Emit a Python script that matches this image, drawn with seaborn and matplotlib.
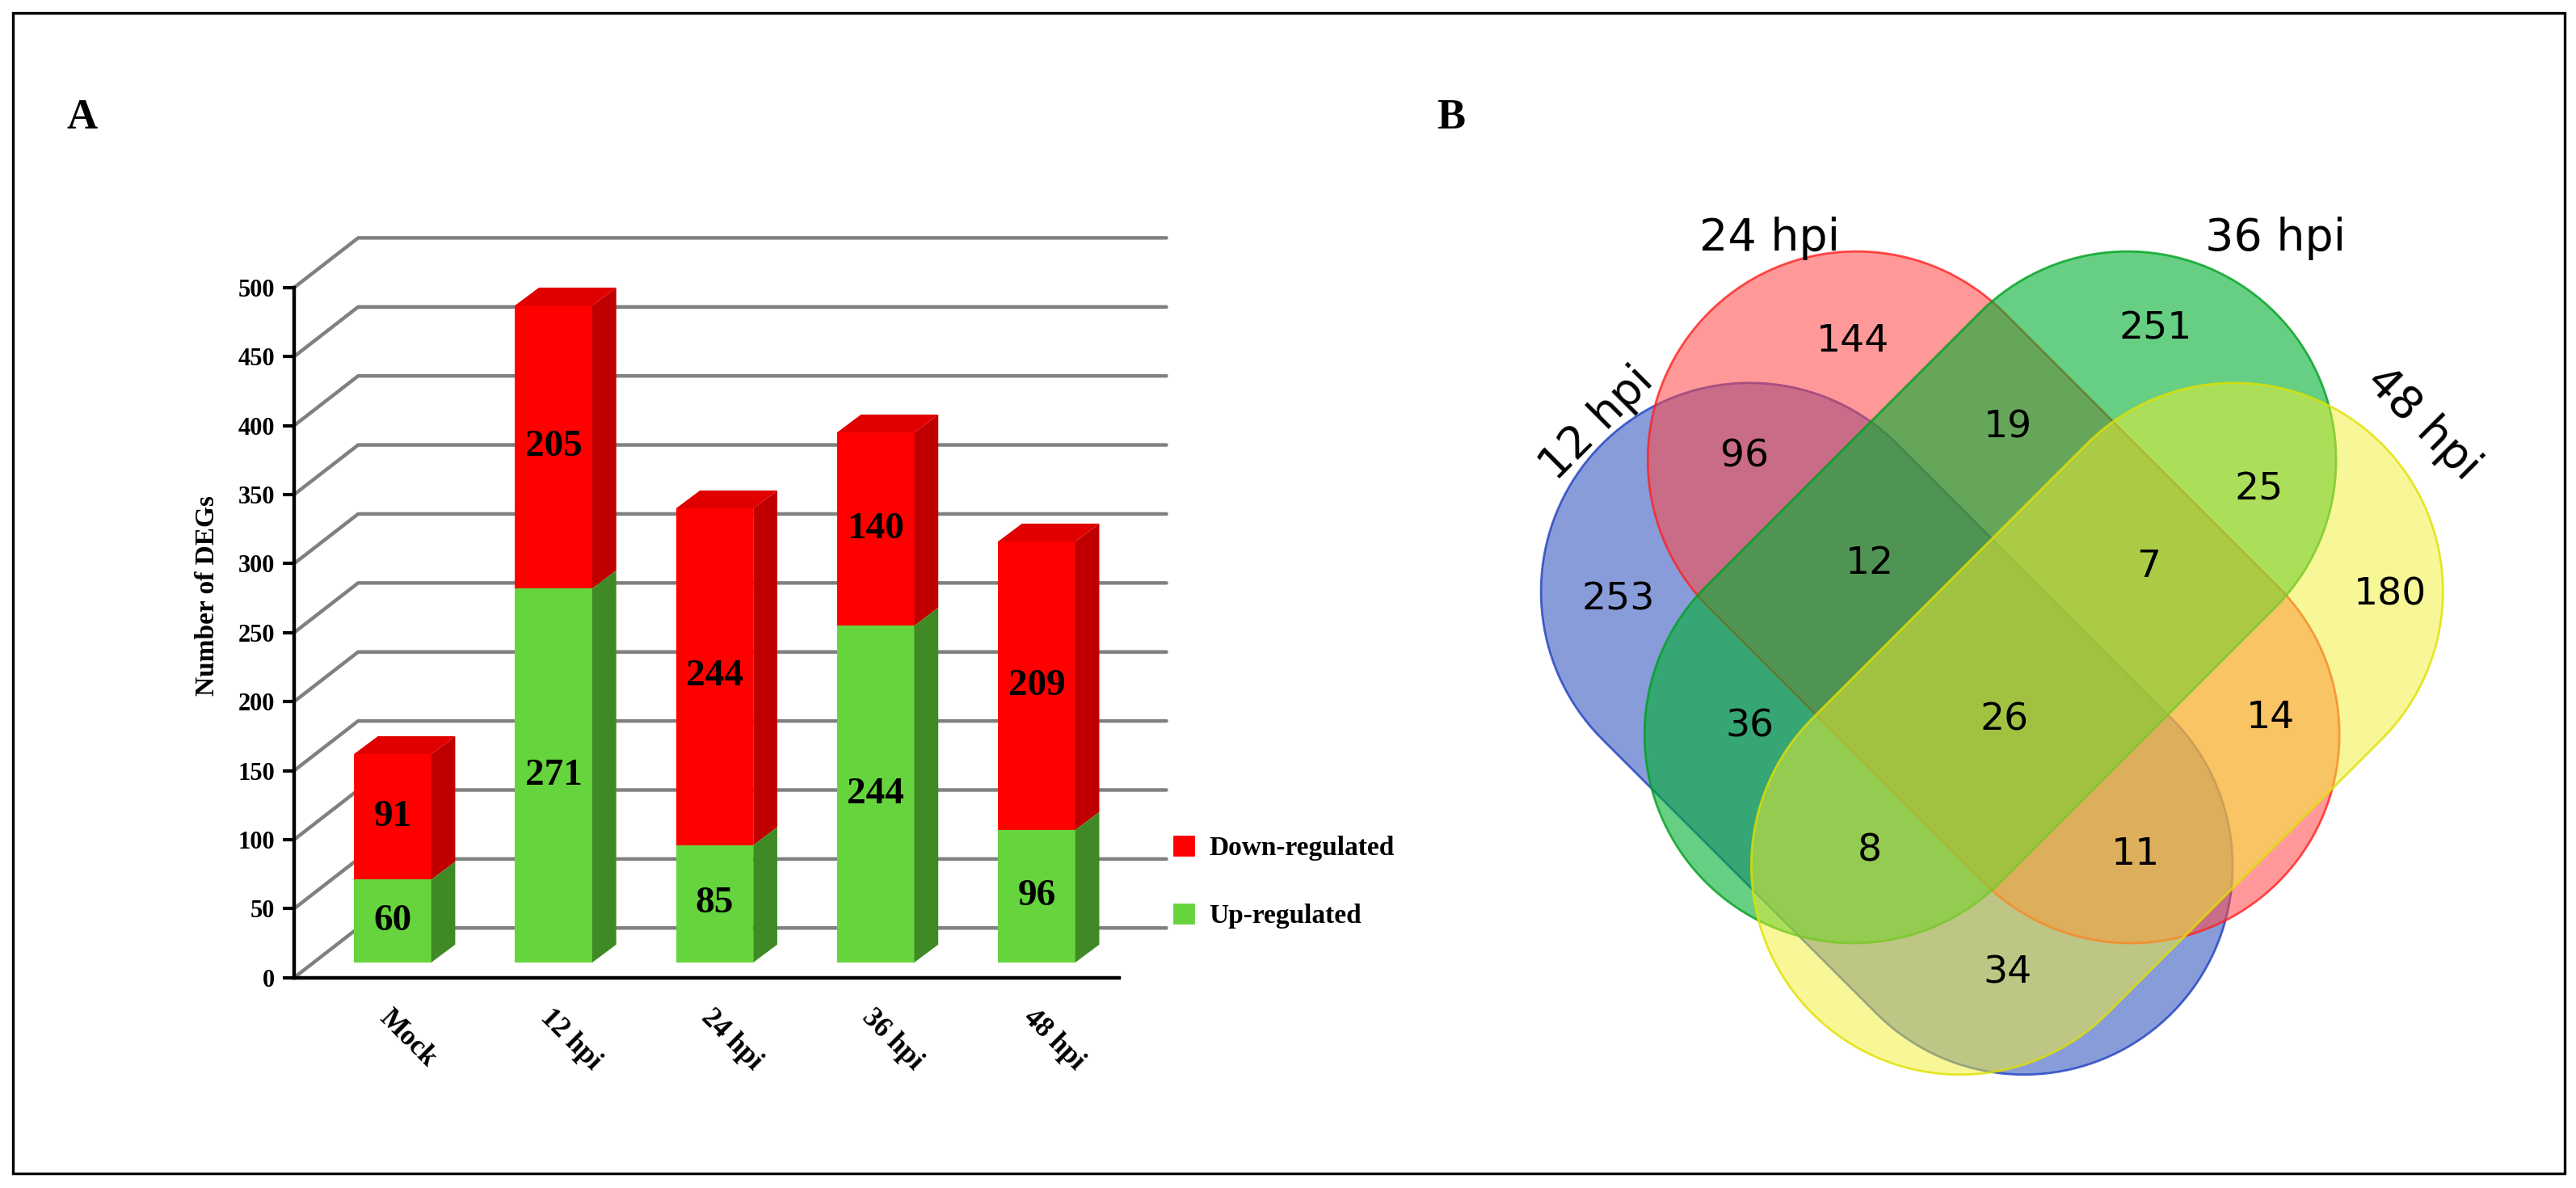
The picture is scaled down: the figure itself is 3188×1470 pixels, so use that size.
import numpy as np
import pandas as pd
import matplotlib
matplotlib.use("Agg")
import matplotlib.pyplot as plt
from matplotlib.patches import Polygon, Patch, Rectangle
import seaborn as sns

sns.set_style("white")
plt.rcParams.update({"text.color": "black", "axes.labelcolor": "black",
                     "xtick.color": "black", "ytick.color": "black"})

# datos panel A
grupos = ["Mock", "12 hpi", "24 hpi", "36 hpi", "48 hpi"]
up = [60, 271, 85, 244, 96]
down = [91, 205, 244, 140, 209]

# datos panel B (venn)
venn_sets = ["12 hpi", "24 hpi", "36 hpi", "48 hpi"]
venn_counts = [253, 144, 251, 180, 96, 19, 25, 12, 7, 36, 26, 14, 8, 11, 34]

W, H = 1568.0, 723.0  # coordenadas de referencia
serif = "Liberation Serif"

fig = plt.figure(figsize=(15.94, 7.35), dpi=200)

def fx(x):
    return x / W

def fy(y):
    return 1 - y / H

# ---------------- Panel A ----------------
ax = fig.add_axes([fx(179), fy(595), fx(715) - fx(179), fy(130) - fy(595)])
df = pd.DataFrame({"grupo": grupos, "up": up, "down": down})
df["total"] = df.up + df.down

xmin, xmax = -0.612, 4.857
gdx, gdy = 0.398, 36
for v in range(50, 501, 50):
    ax.plot([xmin, xmin + gdx, 4.806], [v, v + gdy, v + gdy], color="#808080", lw=1.6, zorder=0, clip_on=False)
ax.plot([xmin, xmin + gdx, 4.806], [0, gdy, gdy], color="#808080", lw=1.6, zorder=0, clip_on=False)

base = 11  # la cara frontal esta algo elevada (efecto 3D)
rojo, verde = "#ff0000", "#66d43c"
sns.barplot(data=df, x="grupo", y="total", color=rojo, width=0.48, saturation=1, ax=ax, zorder=2,
            bottom=base, linewidth=0, edgecolor="none")
sns.barplot(data=df, x="grupo", y="up", color=verde, width=0.48, saturation=1, ax=ax, zorder=2,
            bottom=base, linewidth=0, edgecolor="none")

bdx, bdy = 0.149, 13
for p in ax.patches:
    x0, x1 = p.get_x(), p.get_x() + p.get_width()
    y1 = p.get_y() + p.get_height()
    es_rojo = p.get_facecolor()[1] < 0.2
    i = int(round((x0 + x1) / 2))
    y0 = base + up[i] if es_rojo else base
    side = "#c00000" if es_rojo else "#3f8a25"
    ax.add_patch(Polygon([(x1, y0), (x1 + bdx, y0 + bdy), (x1 + bdx, y1 + bdy), (x1, y1)],
                         closed=True, facecolor=side, edgecolor="none", zorder=2))
    if es_rojo:
        ax.add_patch(Polygon([(x0, y1), (x0 + bdx, y1 + bdy), (x1 + bdx, y1 + bdy), (x1, y1)],
                             closed=True, facecolor="#e00000", edgecolor="none", zorder=2))

for i in range(len(grupos)):
    ax.text(i, base + up[i] / 2, str(up[i]), ha="center", va="center", fontsize=17,
            fontweight="bold", family=serif, zorder=3, color="black")
    ax.text(i, base + up[i] + down[i] / 2, str(down[i]), ha="center", va="center", fontsize=17,
            fontweight="bold", family=serif, zorder=3, color="black")

ax.set_xlim(xmin, xmax)
ax.set_ylim(0, 553.6)
ax.set_yticks(range(0, 501, 50))
ax.set_yticklabels([str(v) for v in range(0, 501, 50)], fontsize=11, fontweight="bold", family=serif)
ax.set_xticks(range(len(grupos)))
ax.set_xticklabels(grupos, rotation=-45, ha="left", rotation_mode="anchor", fontsize=12.5,
                   fontweight="bold", family=serif)
ax.tick_params(axis="y", length=5, width=1.5, left=True)
ax.tick_params(axis="x", length=0, pad=12)
for s in ["top", "right"]:
    ax.spines[s].set_visible(False)
ax.spines["left"].set_bounds(0, 500)
ax.spines["bottom"].set_bounds(xmin, 4.51)
ax.spines["left"].set_linewidth(1.6)
ax.spines["bottom"].set_linewidth(1.6)
ax.spines["left"].set_color("black")
ax.spines["bottom"].set_color("black")
ax.set_xlabel("")
ax.set_ylabel("Number of DEGs", fontsize=12, fontweight="bold", family=serif, labelpad=8)
ax.patch.set_alpha(0)

fig.legend(handles=[Patch(color=rojo, label="Down-regulated"), Patch(color=verde, label="Up-regulated")],
           loc="center left", bbox_to_anchor=(fx(700), fy(537)), frameon=False, labelspacing=1.6,
           handlelength=0.7, handleheight=0.7, handletextpad=0.6,
           prop={"family": serif, "weight": "bold", "size": 12})

# ---------------- Panel B ----------------
bx = fig.add_axes([fx(900), fy(690), fx(1545) - fx(900), fy(120) - fy(690)])
bx.set_xlim(900, 1545)
bx.set_ylim(690, 120)
bx.axis("off")

def estadio(c1, c2, r, n=80):
    c1, c2 = np.array(c1, float), np.array(c2, float)
    d = c2 - c1
    a = np.arctan2(d[1], d[0])
    t2 = np.linspace(a - np.pi / 2, a + np.pi / 2, n)
    t1 = np.linspace(a + np.pi / 2, a + 3 * np.pi / 2, n)
    pts = np.vstack([np.c_[c2[0] + r * np.cos(t2), c2[1] + r * np.sin(t2)],
                     np.c_[c1[0] + r * np.cos(t1), c1[1] + r * np.sin(t1)]])
    return pts

formas = [((1065, 360), (1232, 527), "#3355c0", "#2040c0", 0.58),
          ((1130, 280), (1297, 447), "#ff4545", "#ff2020", 0.55),
          ((1295, 280), (1128, 447), "#00b030", "#00a020", 0.6),
          ((1360, 360), (1193, 527), "#f2f030", "#e0e000", 0.5)]
for c1, c2, fc, ec, al in formas:
    pts = estadio(c1, c2, 127)
    bx.add_patch(Polygon(pts, closed=True, facecolor=fc, alpha=al, edgecolor="none"))
    bx.add_patch(Polygon(pts, closed=True, facecolor="none", edgecolor=ec, lw=1.0, alpha=0.8))

pos_counts = [(985, 365), (1128, 208), (1312, 200), (1455, 362), (1062, 278), (1222, 260),
              (1375, 298), (1138, 343), (1308, 345), (1065, 442), (1220, 438), (1382, 437),
              (1138, 518), (1300, 520), (1222, 592)]
for (x, y), c in zip(pos_counts, venn_counts):
    bx.text(x, y, str(c), ha="center", va="center", fontsize=17, family="DejaVu Sans", color="black")

pos_sets = [(972, 258, 45), (1077, 145, 0), (1385, 145, 0), (1475, 258, -45)]
for (x, y, rot), s in zip(pos_sets, venn_sets):
    bx.text(x, y, s, ha="center", va="center", fontsize=20, rotation=rot, family="DejaVu Sans",
            color="black")

# letras y marco
fig.text(fx(50), fy(72), "A", fontsize=19, fontweight="bold", family=serif, ha="center", va="center")
fig.text(fx(883), fy(72), "B", fontsize=19, fontweight="bold", family=serif, ha="center", va="center")
fig.patches.append(Rectangle((fx(8), fy(714)), fx(1553), fy(8) - fy(714), transform=fig.transFigure,
                             fill=False, edgecolor="black", lw=1.2))

fig.savefig("out.png", dpi=200, facecolor="white")
